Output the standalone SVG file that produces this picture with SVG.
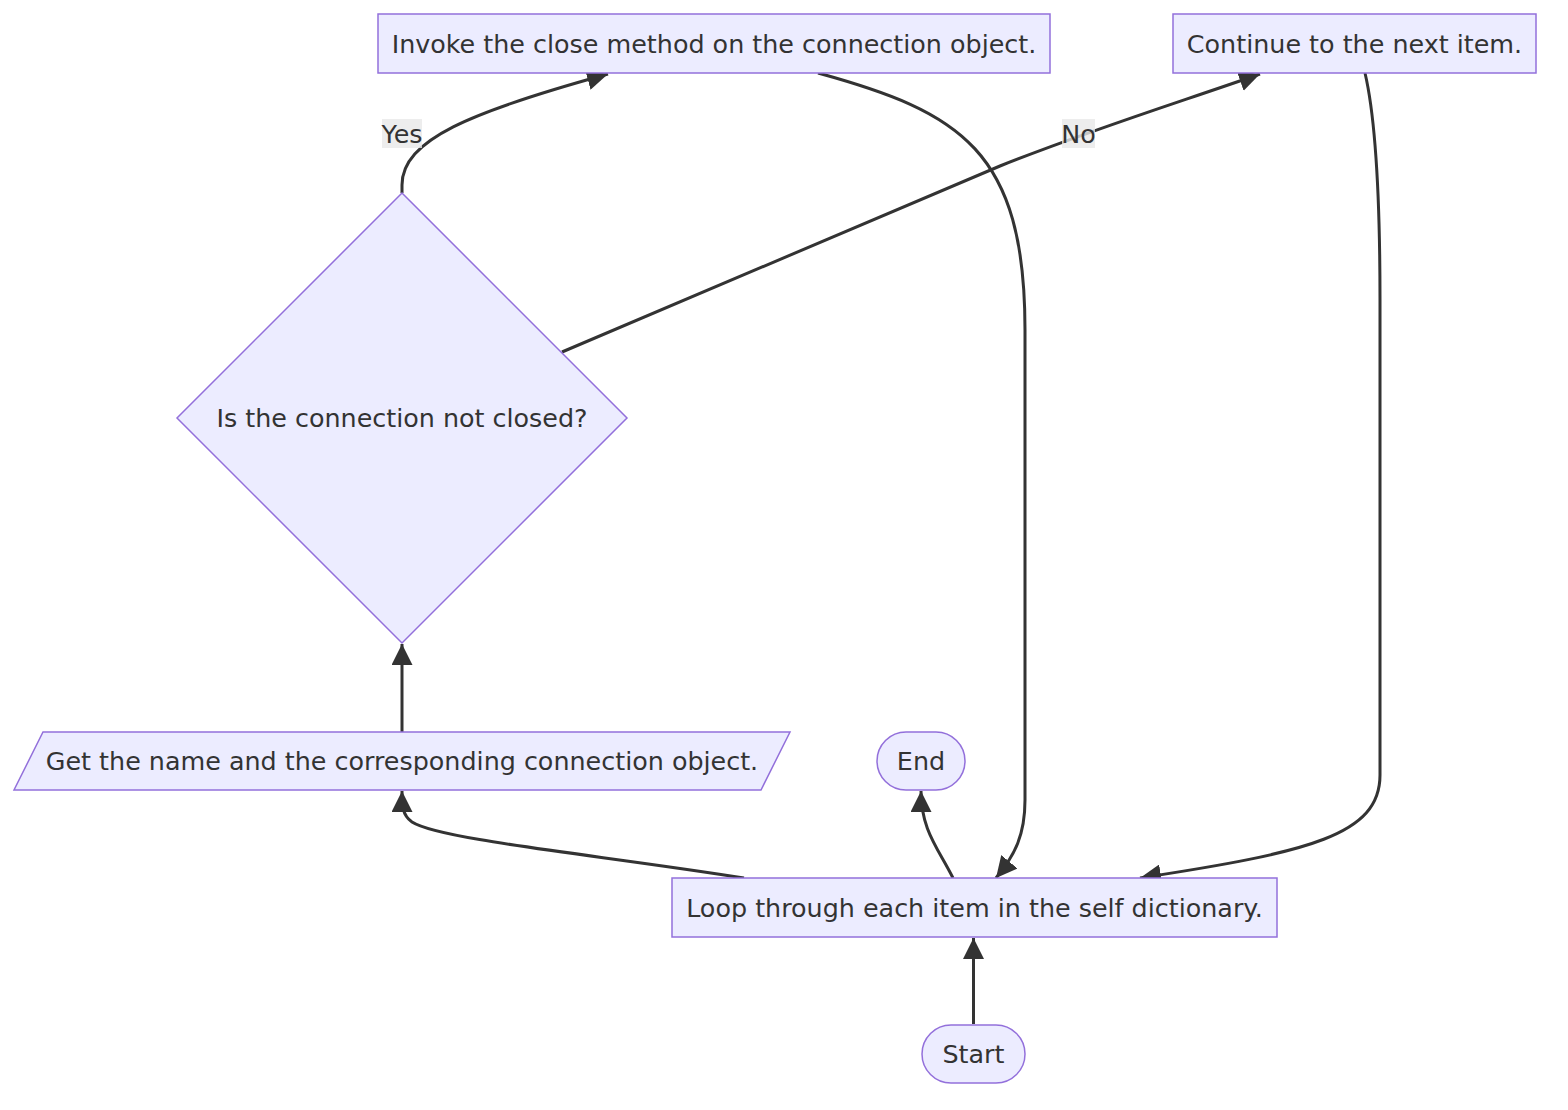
<svg xmlns="http://www.w3.org/2000/svg" width="1568" height="1110" viewBox="0 0 1568 1110">
<defs>
<style>
.node{fill:#ECECFF;stroke:#9370DB;stroke-width:1.5}
.lbl{font-family:"DejaVu Sans",Verdana,sans-serif;font-size:25.4px;fill:#333333;text-anchor:middle;dominant-baseline:central}
.edge{fill:none;stroke:#333333;stroke-width:3;marker-end:url(#arrow)}
.elbg{fill:#e8e8e8;opacity:0.8}
</style>
<marker id="arrow" viewBox="0 0 10 10" refX="10" refY="5" markerWidth="7" markerHeight="7" orient="auto">
<path d="M0,0 L10,5 L0,10 z" fill="#333333"/>
</marker>
</defs>
<rect width="1568" height="1110" fill="#ffffff"/>
<g id="connectors">
<path class="edge" d="M973.5,1024 L973.5,938"/>
<path class="edge" d="M744,878 C600,855 440,840 412,822 C402,815 402,805 402,791"/>
<path class="edge" d="M953,878 C938,848 921,830 921,791"/>
<path class="edge" d="M402,732 L402,644"/>
<path class="edge" d="M402,193 L402,185 C402,140 470,112 608,74"/>
<path class="edge" d="M562,352 L1000,166 C1090,130 1180,102 1260,74"/>
<path class="edge" d="M818,73 C960,112 1025,150 1025,330 L1025,800 C1025,835 1015,855 996,878"/>
<path class="edge" d="M1365,73 C1376,120 1380,200 1380,300 L1380,775 C1380,835 1310,852 1140,878"/>
<g id="label-yes"><rect class="elbg" x="382" y="119" width="40" height="29"/><text class="lbl" x="402" y="133.5">Yes</text></g>
<g id="label-no"><rect class="elbg" x="1062" y="119" width="33" height="29"/><text class="lbl" x="1078.5" y="133.5">No</text></g>
</g>
<g id="invoke"><rect class="node" x="378" y="14" width="672" height="59"/><text class="lbl" x="714" y="43.5">Invoke the close method on the connection object.</text></g>
<g id="continue"><rect class="node" x="1173" y="14" width="363" height="59"/><text class="lbl" x="1354.5" y="43.5">Continue to the next item.</text></g>
<g id="decision"><polygon class="node" points="402,193 627,418 402,643 177,418"/><text class="lbl" x="402" y="418">Is the connection not closed?</text></g>
<g id="getname"><polygon class="node" points="43,732 790,732 761,790 14,790"/><text class="lbl" x="402" y="761">Get the name and the corresponding connection object.</text></g>
<g id="end"><rect class="node" x="877" y="732" width="88" height="58" rx="29" ry="29"/><text class="lbl" x="921" y="761">End</text></g>
<g id="loop"><rect class="node" x="672" y="878" width="605" height="59"/><text class="lbl" x="974.5" y="907.5">Loop through each item in the self dictionary.</text></g>
<g id="start"><rect class="node" x="922" y="1025" width="103" height="58" rx="29" ry="29"/><text class="lbl" x="973.5" y="1054">Start</text></g>
</svg>
